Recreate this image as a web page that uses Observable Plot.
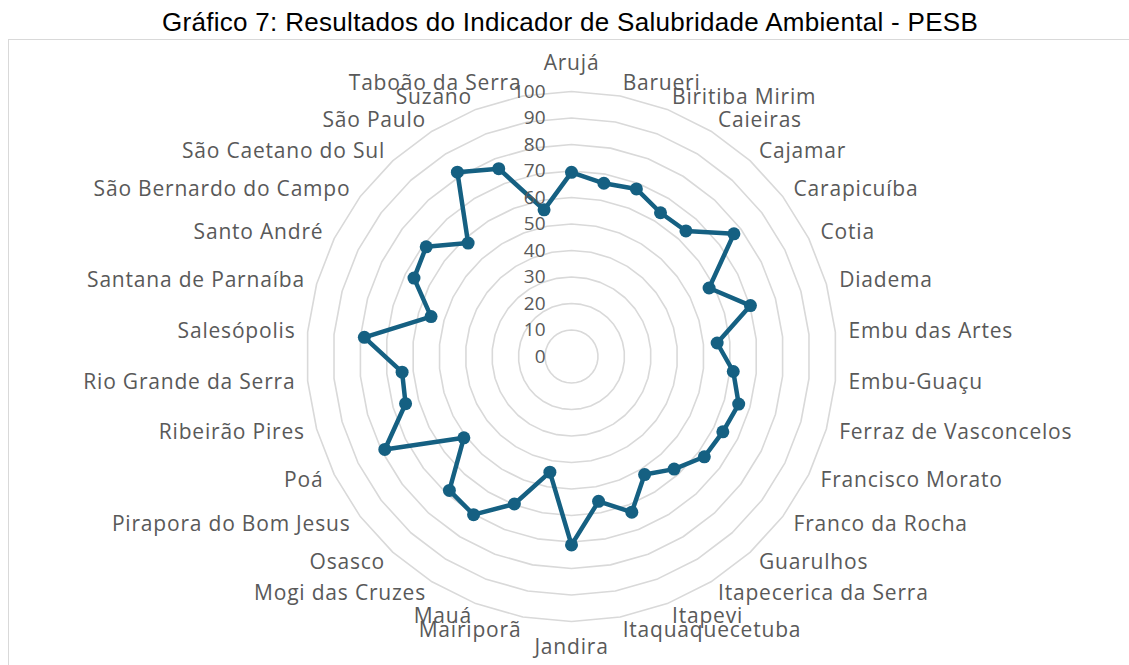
<!DOCTYPE html>
<html>
<head>
<meta charset="utf-8">
<script src="https://cdn.jsdelivr.net/npm/d3@7"></script>
<script src="https://cdn.jsdelivr.net/npm/@observablehq/plot@0.6"></script>
<style>
  html, body { margin: 0; padding: 0; background: #fff; }
  body { width: 1129px; height: 665px; overflow: hidden; position: relative; }
  #title { position: absolute; top: 0; left: 0; width: 1140px; height: 44px; line-height: 44px;
           text-align: center; font-family: "Liberation Sans", Arial, sans-serif; font-size: 26px;
           letter-spacing: 0.3px; color: #000; white-space: nowrap; }
  #frame { position: absolute; top: 39px; left: 8px; width: 1200px; height: 700px;
           border-left: 1.5px solid #d9d9d9; border-top: 1.5px solid #d9d9d9; }
  #chart { position: absolute; top: 38px; left: 0; }
</style>
</head>
<body>
<div id="title">Gráfico 7: Resultados do Indicador de Salubridade Ambiental - PESB</div>
<div id="frame"></div>
<div id="chart"></div>
<script>
const categories = [
  "Arujá", "Barueri", "Biritiba Mirim", "Caieiras", "Cajamar", "Carapicuíba", "Cotia",
  "Diadema", "Embu das Artes", "Embu-Guaçu", "Ferraz de Vasconcelos", "Francisco Morato",
  "Franco da Rocha", "Guarulhos", "Itapecerica da Serra", "Itapevi", "Itaquaquecetuba",
  "Jandira", "Mairiporã", "Mauá", "Mogi das Cruzes", "Osasco", "Pirapora do Bom Jesus",
  "Poá", "Ribeirão Pires", "Rio Grande da Serra", "Salesópolis", "Santana de Parnaíba",
  "Santo André", "São Bernardo do Campo", "São Caetano do Sul", "São Paulo", "Suzano",
  "Taboão da Serra"
];
const values = [
  69.5, 66.5, 67.8, 63.8, 64.1, 76.8, 58.0,
  70.2, 55.2, 61.3, 65.6, 63.8,
  62.8, 57.5, 52.4, 63.0, 55.6,
  71.1, 44.4, 59.7, 70.2, 68.4, 50.9,
  78.7, 65.1, 64.2, 78.5, 55.1,
  66.4, 68.7, 57.9, 81.8, 76.0,
  56.3
];
const ticks = [0, 10, 20, 30, 40, 50, 60, 70, 80, 90, 100];

const n = categories.length;
const ang = i => (2 * Math.PI * i) / n;

const series = categories.map((c, i) => ({
  name: c, v: values[i],
  x: values[i] * Math.sin(ang(i)), y: values[i] * Math.cos(ang(i))
}));

const rings = [];
for (const t of ticks.filter(t => t > 0)) {
  for (let i = 0; i < n; i++) rings.push({ring: t, x: t * Math.sin(ang(i)), y: t * Math.cos(ang(i))});
}

const labelR = 105;
const labels = categories.map((c, i) => {
  const s = Math.sin(ang(i)), co = Math.cos(ang(i));
  return {name: c, x: labelR * s, y: labelR * co, s, co};
});

const cx = 571, cy = 318, R = 265;
const font = "'Open Sans', sans-serif";
const txtColor = "#595959";
const lblSize = 21;

const chart = Plot.plot({
  width: 1129,
  height: 627,
  margin: 0,
  x: {domain: [-100, 100], range: [cx - R, cx + R], axis: null},
  y: {domain: [-100, 100], range: [cy + R, cy - R], axis: null},
  style: {fontFamily: font, background: "transparent"},
  marks: [
    Plot.line(rings, {x: "x", y: "y", z: "ring", curve: "linear-closed", stroke: "#d9d9d9", strokeWidth: 1.6}),
    Plot.line(series, {x: "x", y: "y", curve: "linear-closed", stroke: "#156082", strokeWidth: 4.5, strokeLinejoin: "round"}),
    Plot.dot(series, {x: "x", y: "y", r: 6.5, fill: "#156082", stroke: null}),
    Plot.text(ticks, {x: () => 0, y: d => d, text: d => String(d), textAnchor: "end", dx: -26,
      fontSize: 19, fill: txtColor, fontFamily: font}),
    Plot.text(labels.filter(d => d.s > 0.01), {
      x: "x", y: "y", text: "name", textAnchor: "start",
      fontSize: lblSize, fill: txtColor, fontFamily: font
    }),
    Plot.text(labels.filter(d => d.s < -0.01), {
      x: "x", y: "y", text: "name", textAnchor: "end", dx: 1,
      fontSize: lblSize, fill: txtColor, fontFamily: font
    }),
    Plot.text(labels.filter(d => Math.abs(d.s) <= 0.01 && d.co > 0), {
      x: "x", y: "y", text: "name", textAnchor: "middle", dy: -15,
      fontSize: lblSize, fill: txtColor, fontFamily: font
    }),
    Plot.text(labels.filter(d => Math.abs(d.s) <= 0.01 && d.co < 0), {
      x: "x", y: "y", text: "name", textAnchor: "middle", dy: 13,
      fontSize: lblSize, fill: txtColor, fontFamily: font
    })
  ]
});
d3.select(chart).selectAll("text")
  .filter(function () { return categories.includes(this.textContent); })
  .style("letter-spacing", "0.8px");
document.getElementById("chart").appendChild(chart);
</script>
</body>
</html>
